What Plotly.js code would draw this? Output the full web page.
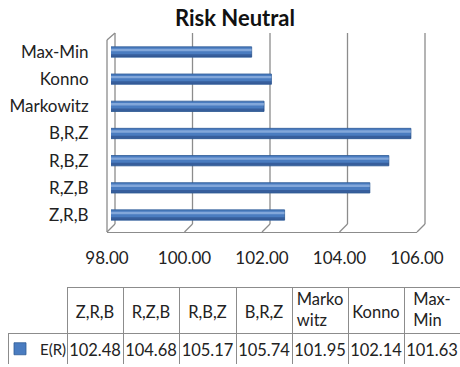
<!DOCTYPE html>
<html><head><meta charset="utf-8">
<script src="https://cdn.plot.ly/plotly-3.0.1.min.js"></script>
<style>html,body{margin:0;padding:0;background:#fff}#chart{width:460px;height:367px}</style>
</head><body><div id="chart"></div>
<script>
const categories = ['Z,R,B','R,Z,B','R,B,Z','B,R,Z','Markowitz','Konno','Max-Min'];
const values = [102.48,104.68,105.17,105.74,101.95,102.14,101.63];
const tableHeaders = ['Z,R,B','R,Z,B','R,B,Z','B,R,Z','Marko<br>witz','Konno','Max-<br>Min'];
const seriesName = 'E(R)';
const xTicks = [98,100,102,104,106];
const chartTitle = 'Risk Neutral';

const H = 367, W = 460;
const py = p => 1 - p / H;
const px = p => p / W;
const FONT = 'Lato, "Open Sans", sans-serif';
const GRID = '#8c8c8c';
const BLUE = '#4a7cc0';
const TXT = '#222';
const colW = [59,56,56,57,56,56,56,56];
const tblX = [px(8), 1];
const TF = 16.5;
const XR = [xTicks[0], xTicks[xTicks.length-1]];
const FRONT = [px(107), px(417)];   // front plane of the 3-D box
const BACK = [px(115), px(425)];    // back wall
const MID = [px(111), px(421)];     // plane of the bars
const mapX = (dom, v) => dom[0] + (v - XR[0]) / (XR[1] - XR[0]) * (dom[1] - dom[0]);

const isTwo = h => h.indexOf('<br>') >= 0;
const textTable = (vals, top) => ({
  type:'table', domain:{x:tblX, y:[Math.max(0, py(top+60)), py(top)]}, columnwidth:colW,
  header:{values:[''].concat(vals).map(h=>[h]), height:20, align:'center',
    line:{color:'rgba(0,0,0,0)', width:0}, fill:{color:'rgba(0,0,0,0)'}, font:{family:FONT, size:TF, color:TXT}},
  cells:{values:colW.map(()=>['']), height:8, line:{color:'rgba(0,0,0,0)', width:0}, fill:{color:'rgba(0,0,0,0)'}}
});

const traces = [
  {type:'scatter', x:XR, y:[categories[0],categories[0]], xaxis:'x', yaxis:'y', mode:'markers', marker:{opacity:0}, hoverinfo:'skip', showlegend:false},
  {type:'bar', orientation:'h', name:seriesName, x:values, y:categories, xaxis:'x3', yaxis:'y', width:0.38, offset:-0.19,
   marker:{color:BLUE, line:{color:'#2f5b96', width:0.8}}, hoverinfo:'x', showlegend:true},
  {type:'bar', orientation:'h', x:values, y:categories, xaxis:'x3', yaxis:'y', width:0.1, offset:-0.18,
   marker:{color:'rgba(20,40,90,0.35)', line:{width:0}}, hoverinfo:'skip', showlegend:false},
  {type:'bar', orientation:'h', x:values, y:categories, xaxis:'x3', yaxis:'y', width:0.09, offset:0.03,
   marker:{color:'rgba(200,220,250,0.45)', line:{width:0}}, hoverinfo:'skip', showlegend:false},
  // table frame
  {type:'table', domain:{x:tblX, y:[py(364), py(287)]}, columnwidth:colW,
   header:{values:colW.map(()=>['']), height:46,
     line:{color:['rgba(0,0,0,0)'].concat(tableHeaders.map(()=>GRID)), width:1}, fill:{color:'#fff'}},
   cells:{values:colW.map(()=>['']), height:31, line:{color:GRID, width:1}, fill:{color:'#fff'}}},
  // table texts
  textTable(tableHeaders.map(h => isTwo(h) ? h : ''), 281),
  textTable(tableHeaders.map(h => isTwo(h) ? '' : h), 298),
  textTable(values.map(v => v.toFixed(2)), 336)
];

const line = {color:GRID, width:1.3};
const seg = (x0, y0, x1, y1) => ({type:'line', xref:'paper', yref:'paper', x0:x0, y0:y0, x1:x1, y1:y1, line:line, layer:'below'});
const shapes = xTicks.map(v => seg(mapX(BACK, v), py(224), mapX(BACK, v), py(33)))
 .concat([
  seg(mapX(FRONT, XR[0]), py(232), mapX(FRONT, XR[0]), py(40)),
  seg(mapX(FRONT, XR[0]), py(40), mapX(BACK, XR[0]), py(33))])
 .concat(xTicks.map(v => seg(mapX(FRONT, v), py(232), mapX(BACK, v), py(224))));

const layout = {
  width:W, height:H, margin:{l:0,r:0,t:0,b:0}, paper_bgcolor:'#fff', plot_bgcolor:'rgba(0,0,0,0)',
  showlegend:true, barmode:'overlay',
  legend:{x:0, y:py(349), xanchor:'left', yanchor:'middle', bgcolor:'rgba(0,0,0,0)', borderwidth:0,
    font:{family:FONT, size:15, color:TXT}},
  title:{text:'<b>'+chartTitle+'</b>', x:px(235), xanchor:'center', y:py(18), yanchor:'middle', xref:'paper', yref:'paper',
    font:{family:FONT, size:22, color:'#111'}},
  xaxis:{domain:FRONT, range:XR, anchor:'free', position:py(232),
    showline:true, linecolor:GRID, showgrid:false, zeroline:false,
    tickvals:xTicks, ticktext:xTicks.map(v=>v.toFixed(2)), ticks:'outside', ticklen:11, tickcolor:'rgba(0,0,0,0)',
    tickfont:{family:FONT, size:17, color:TXT}},
  xaxis3:{domain:MID, range:XR, anchor:'y', visible:false},
  yaxis:{domain:[py(228.6), py(38.4)], type:'category', categoryorder:'array', categoryarray:categories,
    range:[-0.5, categories.length-0.5], anchor:'x3', showgrid:false, showline:false, zeroline:false,
    ticks:'outside', ticklen:18, tickcolor:'rgba(0,0,0,0)', tickfont:{family:FONT, size:17, color:TXT}},
  shapes:shapes
};

Plotly.newPlot('chart', traces, layout, {displayModeBar:false});
</script></body></html>
